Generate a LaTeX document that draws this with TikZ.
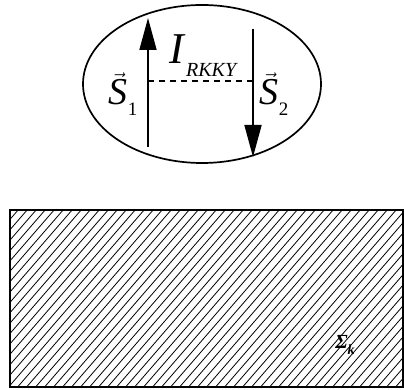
\documentclass[tikz,border=0pt]{standalone}
\usepackage{amsmath}
\usepackage{fontspec}
\setmainfont{Liberation Serif}
\usetikzlibrary{arrows.meta,shapes.geometric}
\newcommand{\spinlabel}[1]{$\vec{\text{\itshape S}}$\raisebox{-0.28em}{\fontsize{19}{19}\selectfont #1}}
\tikzset{
  sp diagram/.style={x=1pt, y=1pt, line join=miter},
  sp outline/.style={draw=black, line width=1.7pt},
  sp spin/.style={-{Triangle[length=32pt,width=17pt]}, draw=black, line width=1.7pt},
  sp coupling/.style={draw=black, line width=1.4pt, dash pattern=on 6pt off 5pt},
  sp label/.style={inner sep=0pt, font=\fontsize{38}{40}\selectfont},
  sp hatch/.style={draw=black, line width=0.8pt}
}

\begin{document}
\begin{tikzpicture}[sp diagram]
\useasboundingbox (0,0) rectangle (404,390);
% the pair of spins
\node[sp outline, ellipse, minimum width=238pt, minimum height=158pt] (dot) at (202,306) {};
\coordinate (s1 tail) at (148,243);
\coordinate (s1 head) at (148,372);
\coordinate (s2 tail) at (253,361);
\coordinate (s2 head) at (253,233);
\coordinate (j1) at (148,309);
\coordinate (j2) at (253,309);
\draw[sp spin] (s1 tail) -- (s1 head);
\draw[sp spin] (s2 tail) -- (s2 head);
\draw[sp coupling] (j1) -- (j2);
\node[sp label] (s1) at (123,296) {\spinlabel{1}};
\node[sp label] (s2) at (274,296) {\spinlabel{2}};
\node[sp label, font=\fontsize{44}{44}\selectfont] (irkky) at (203,334)
  {\textit{I}\raisebox{-0.3em}{\fontsize{20}{20}\selectfont\itshape RKKY}};
% the host metal
\node[sp outline, minimum width=393pt, minimum height=177pt, anchor=south west] (box) at (9,2) {};
\begin{scope}
  \clip (box.south west) rectangle (box.north east);
  \foreach \i in {-210,-201,...,410}
    \draw[sp hatch] (\i,0) -- ++(170,196);
\end{scope}
\node[sp outline, minimum width=393pt, minimum height=177pt, anchor=south west] at (9,2) {};
\node[inner sep=0pt, font=\fontsize{20}{20}\selectfont\bfseries\itshape] (sigma) at (345,45)
  {Σ\raisebox{-0.3em}{\fontsize{14}{14}\selectfont k}};
\end{tikzpicture}
\end{document}
